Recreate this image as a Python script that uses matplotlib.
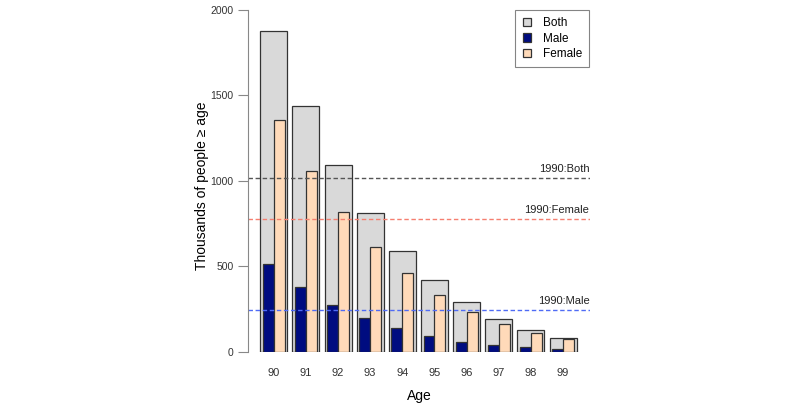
import matplotlib.pyplot as plt
import numpy as np

plt.rcParams["font.family"] = ["Liberation Sans", "DejaVu Sans"]

ages = ["90", "91", "92", "93", "94", "95", "96", "97", "98", "99"]
both = [1877, 1437, 1091, 810, 589, 422, 292, 194, 129, 82]
male = [516, 377, 274, 195, 136, 92, 58, 39, 26, 14]
female = [1358, 1058, 815, 615, 459, 333, 232, 162, 107, 72]

ref_labels = ["1990:Both", "1990:Female", "1990:Male"]
ref_values = [1017, 774, 243]
ref_colors = ["#555555", "#F57F70", "#4F6BF5"]

fig = plt.figure(figsize=(8, 4.08), dpi=100)
ax = fig.add_axes([0.31, 0.138, 0.4275, 0.8375])

x = np.arange(len(ages))
ax.bar(x, both, width=0.84, color="#D9D9D9", edgecolor="#333333", linewidth=0.9, label="Both")
ax.bar(x - 0.17, male, width=0.34, color="#000C80", edgecolor="#333333", linewidth=0.9, label="Male")
ax.bar(x + 0.17, female, width=0.34, color="#FFDAB9", edgecolor="#333333", linewidth=0.9, label="Female")

for lab, val, col in zip(ref_labels, ref_values, ref_colors):
    ax.axhline(val, color=col, linestyle=(0, (3.2, 1.9)), linewidth=1.0)
    ax.text(9.82, val + 25, lab, ha="right", va="bottom", fontsize=8, color="#222222")

ax.set_xlim(-0.8, 9.84)
ax.set_ylim(0, 2000)
ax.set_xticks(x)
ax.set_xticklabels(ages, fontsize=8, color="#333333")
ax.tick_params(axis="x", length=0, pad=12)
ax.set_yticks([0, 500, 1000, 1500, 2000])
ax.tick_params(axis="y", labelsize=7.5, colors="#333333", length=7, color="#888888")

for s in ["top", "right", "bottom"]:
    ax.spines[s].set_visible(False)
ax.spines["left"].set_color("#888888")

ax.set_xlabel("Age", fontsize=10, labelpad=8)
ax.set_ylabel("Thousands of people \u2265 age", fontsize=10)
ax.yaxis.set_label_coords(-0.115, 0.485)

leg = ax.legend(loc="upper right", bbox_to_anchor=(0.997, 1.0), borderaxespad=0, fontsize=8.5,
                frameon=True, fancybox=False, edgecolor="#666666", handlelength=0.7,
                handleheight=0.7, borderpad=0.6, labelspacing=0.3, handletextpad=1.0)
leg.get_frame().set_linewidth(0.8)

fig.savefig("out.png", dpi=100)
